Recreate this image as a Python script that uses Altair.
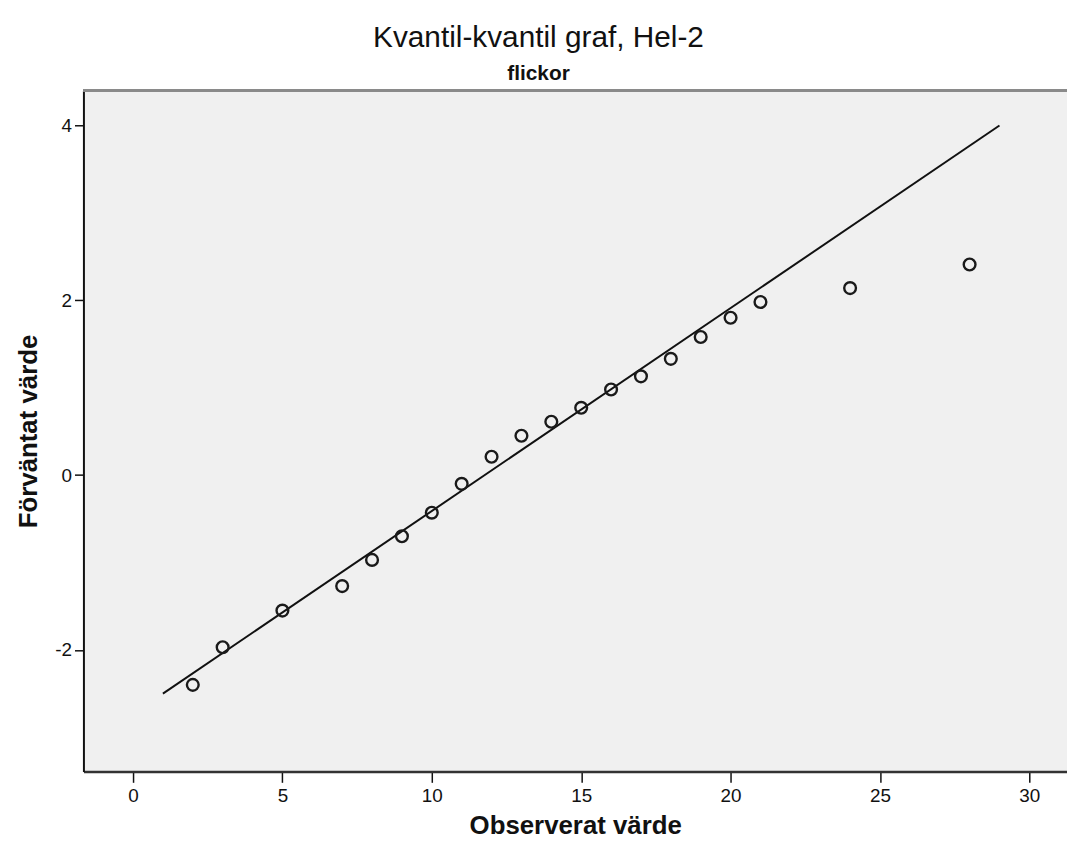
import altair as alt
import pandas as pd

observed = [2, 3, 5, 7, 8, 9, 10, 11, 12, 13, 14, 15, 16, 17, 18, 19, 20, 21, 24, 28]
expected = [-2.40, -1.97, -1.55, -1.27, -0.97, -0.70, -0.43, -0.10, 0.21, 0.45,
            0.61, 0.77, 0.98, 1.13, 1.33, 1.58, 1.80, 1.98, 2.14, 2.41]

# Reference line endpoints
line_x = [1, 29]
line_y = [-2.50, 4.00]

x_ticks = [0, 5, 10, 15, 20, 25, 30]
y_ticks = [-2, 0, 2, 4]

pts = pd.DataFrame({"obs": observed, "exp": expected})
ref = pd.DataFrame({"obs": line_x, "exp": line_y})

FONT = "Liberation Sans"
W, H = 991, 686

xs = alt.Scale(domain=[-1.66, 31.26], nice=False, zero=False)
ys = alt.Scale(domain=[-3.39, 4.40], nice=False, zero=False)

xaxis = alt.Axis(values=x_ticks, labelExpr="'' + datum.value", title="Observerat värde",
                 grid=False, domainColor="#333333", domainWidth=2.5, tickColor="#111111",
                 tickWidth=1.5, tickSize=11, labelFontSize=19, labelFont=FONT,
                 labelColor="#111111", titleFont=FONT, titleFontSize=26,
                 titleFontWeight="bold", titleColor="#111111", labelPadding=4,
                 titlePadding=8, labelFlush=False)
yaxis = alt.Axis(values=y_ticks, labelExpr="'' + datum.value", title="Förväntat värde",
                 grid=False, domainColor="#111111", domainWidth=2, tickColor="#111111",
                 tickWidth=1.5, tickSize=9, labelFontSize=19, labelFont=FONT,
                 labelColor="#111111", titleFont=FONT, titleFontSize=26,
                 titleFontWeight="bold", titleColor="#111111", labelPadding=3,
                 titlePadding=13, labelFlush=False)

line = alt.Chart(ref).mark_line(color="#111111", strokeWidth=2).encode(
    x=alt.X("obs:Q", scale=xs, axis=xaxis),
    y=alt.Y("exp:Q", scale=ys, axis=yaxis),
)

points = alt.Chart(pts).mark_point(shape="circle", filled=False, color="#1a1a1a",
                                   strokeWidth=2.4, size=140, opacity=1).encode(
    x=alt.X("obs:Q", scale=xs),
    y=alt.Y("exp:Q", scale=ys),
)

topline = alt.Chart(pts).mark_rule(color="#8a8a8a", strokeWidth=3).encode(
    x=alt.value(0), x2=alt.value(W), y=alt.value(0)
)

chart = alt.layer(line, points, topline).properties(
    width=W, height=H,
    background="white",
    title=alt.Title(text="Kvantil-kvantil graf, Hel-2", subtitle="flickor",
                    anchor="middle", dx=-37, font=FONT, fontSize=30,
                    fontWeight="normal", color="#111111", subtitleFont=FONT,
                    subtitleFontSize=21, subtitleFontWeight="bold",
                    subtitleColor="#111111", subtitlePadding=10, offset=5),
    autosize=alt.AutoSizeParams(type="none"),
    padding={"left": 76, "top": 80, "right": 0, "bottom": 72},
).configure_view(stroke=None, fill="#f0f0f0")

chart.save("out.html", embed_options={"renderer": "svg", "actions": False})
